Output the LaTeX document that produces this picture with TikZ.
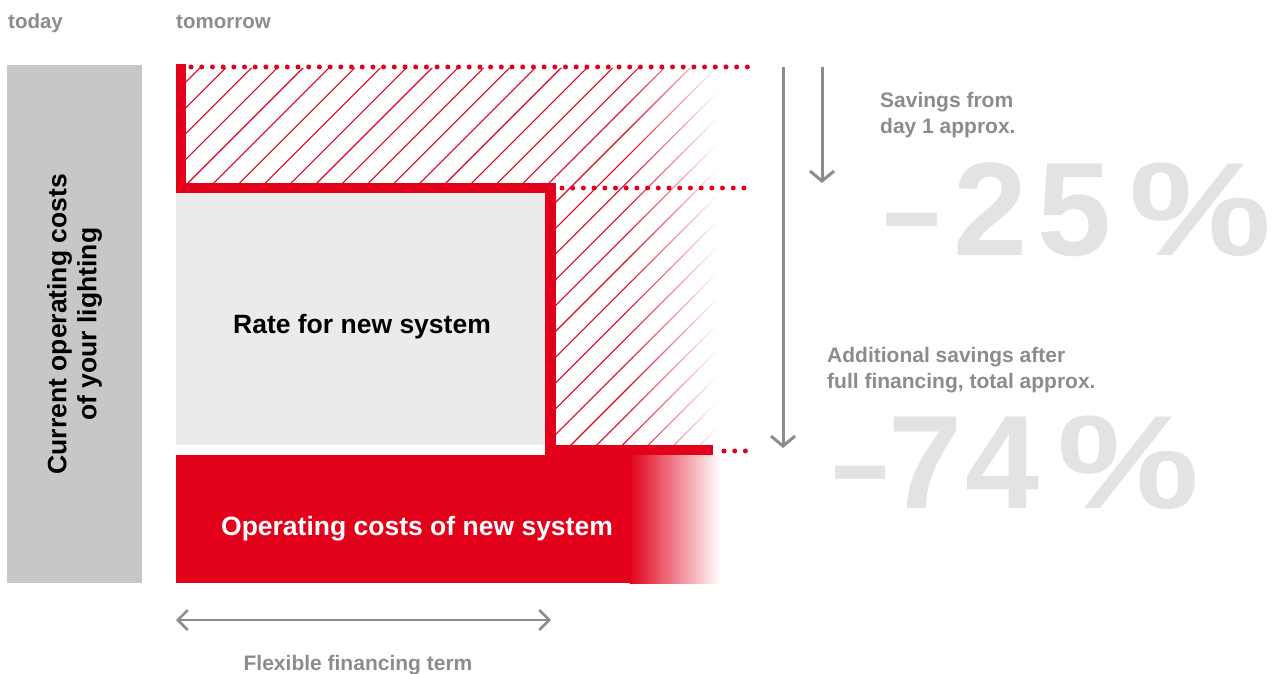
\documentclass[tikz,border=0pt]{standalone}
\usepackage{graphicx}
\usepackage{fontspec}
\setmainfont{Liberation Sans}
\usetikzlibrary{arrows.meta,fadings}

\definecolor{brandred}{HTML}{E2001A}
\definecolor{todaygray}{HTML}{C6C7C6}
\definecolor{rategray}{HTML}{EBEBEB}
\definecolor{labelgray}{HTML}{8A8C90}
\definecolor{bignumgray}{HTML}{E3E3E3}

\tikzfading[name=fadetowhite, left color=transparent!100, right color=transparent!0]

\begin{document}
\begin{tikzpicture}[
    x=1pt, y=-1pt,
    headline/.style={anchor=base west, inner sep=0, text=labelgray, font=\fontsize{20.5}{21}\selectfont\bfseries},
    sidenote/.style={anchor=base west, inner sep=0, align=left, text=labelgray, font=\fontsize{21}{25.5}\selectfont\bfseries},
    bignum/.style={anchor=base west, inner sep=0, text=bignumgray, font=\fontsize{133}{133}\selectfont\bfseries},
    boxtext/.style={anchor=base, inner sep=0, font=\fontsize{26.5}{30}\selectfont\bfseries},
    hatchline/.style={brandred, line width=1.1},
    stepline/.style={brandred, line width=10.5},
    dotline/.style={brandred, line width=5, line cap=round, dash pattern=on 0pt off 10.7pt},
    downarrow/.style={labelgray, line width=3, -{Straight Barb[length=10pt,width=24pt]}},
    termarrow/.style={labelgray, line width=2.5, {Straight Barb[length=10pt,width=20pt]}-{Straight Barb[length=10pt,width=20pt]}}
]
\useasboundingbox (0,0) rectangle (1279,674);

\node[headline] (today) at (8,29) {today};
\node[headline] (tomorrow) at (176,29) {tomorrow};

% today column
\node[
      fill=todaygray,
      anchor=north west,
      inner sep=0,
      minimum width=135,
      minimum height=518
] (todaybox) at (7,65) {};
\node[boxtext, anchor=center, rotate=90, align=center] (todaytext) at (todaybox.center) {Current operating costs\\of your lighting};

% tomorrow column
\node[
      fill=rategray,
      anchor=north west,
      inner sep=0,
      minimum width=369,
      minimum height=252
] (ratebox) at (176,193) {};
\node[boxtext] (ratetext) at (362,333) {Rate for new system};

\fill[brandred] (176,455) rectangle (630,583);
\shade[left color=brandred, right color=white] (629.5,455) rectangle (720,583);
\node[boxtext, text=white] (costtext) at (417,535) {Operating costs of new system};

% hatched savings
\begin{scope}
\clip (186,68) -- (716,68) -- (716,446) -- (550,446) -- (550,188) -- (186,188) -- cycle;
\foreach \k in {-5,...,31}
  \draw[hatchline] ({-89+25.8*\k},460) -- ++(420,-420);
\end{scope}
\fill[white, path fading=fadetowhite] (625,66) rectangle (718,445);

\draw[stepline] (181,64) |- (550.5,188) |- (713,450);

\draw[dotline] (191,67) -- (748,67);
\draw[dotline] (562,188) -- (748,188);
\draw[dotline] (724,451) -- (748,451);

% savings arrows
\coordinate (totaltop) at (783,67);
\coordinate (totalend) at (783,448);
\coordinate (dayonetop) at (822,67);
\coordinate (dayoneend) at (822,183);
\draw[downarrow] (totaltop) -- (totalend);
\draw[downarrow] (dayonetop) -- (dayoneend);

\node[sidenote] (dayonetext) at (880,133) {Savings from\\day 1 approx.};
\node[bignum] (dayonepct) at (883,255) {\scalebox{0.77}[1]{–}\hspace{13pt}2\hspace{10pt}5\hspace{18pt}\scalebox{1.2}[1]{\%}};
\node[sidenote] (totaltext) at (827,388) {Additional savings after\\full financing, total approx.};
\node[bignum] (totalpct) at (832,508) {\scalebox{0.76}[1]{–}\hspace{0pt}7\hspace{3pt}4\hspace{18pt}\scalebox{1.2}[1]{\%}};

% financing term
\coordinate (termstart) at (176,620);
\coordinate (termend) at (551,620);
\draw[termarrow] (termstart) -- (termend);
\node[sidenote, anchor=base, text=labelgray] (termtext) at (358,670) {Flexible financing term};
\end{tikzpicture}
\end{document}
